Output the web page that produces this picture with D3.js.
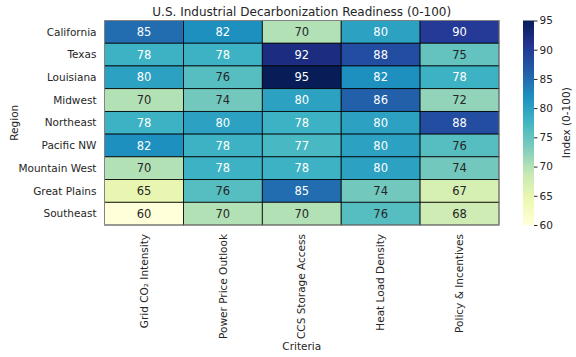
<!DOCTYPE html>
<html><head><meta charset="utf-8">
<script src="https://cdn.jsdelivr.net/npm/d3@7"></script>
<style>body{margin:0;background:#fff}svg{display:block;font-family:"DejaVu Sans",sans-serif}</style>
</head><body><svg id="c" width="576" height="357"></svg>
<script>
const regions = ["California","Texas","Louisiana","Midwest","Northeast","Pacific NW","Mountain West","Great Plains","Southeast"];
const criteria = ["Grid CO\u2082 Intensity","Power Price Outlook","CCS Storage Access","Heat Load Density","Policy & Incentives"];
const values = [
  [85,82,70,80,90],
  [78,78,92,88,75],
  [80,76,95,82,78],
  [70,74,80,86,72],
  [78,80,78,80,88],
  [82,78,77,80,76],
  [70,78,78,80,74],
  [65,76,85,74,67],
  [60,70,70,76,68]
];
const cbTicks = [60,65,70,75,80,85,90,95];
const vmin = 60, vmax = 95;
const title = "U.S. Industrial Decarbonization Readiness (0-100)";

const ylgnbu = ["#ffffd9","#edf8b1","#c7e9b4","#7fcdbb","#41b6c4","#1d91c0","#225ea8","#253494","#081d58"];
const color = d3.scaleLinear().domain(d3.range(9).map(i=>vmin+(vmax-vmin)*i/8)).range(ylgnbu).interpolate(d3.interpolateRgb).clamp(true);

function lum(c){
  const r = d3.rgb(c);
  const f = v=>{v/=255; return v<=0.03928? v/12.92 : Math.pow((v+0.055)/1.055,2.4);};
  return 0.2126*f(r.r)+0.7152*f(r.g)+0.0722*f(r.b);
}

const svg = d3.select("#c");
const L=104.5, R=499, T=20.5, B=225;
const x = d3.scaleBand().domain(criteria).range([L,R]);
const y = d3.scaleBand().domain(regions).range([T,B]);

const cells = [];
regions.forEach((r,i)=>criteria.forEach((c,j)=>cells.push({r,c,v:values[i][j]})));

const g = svg.append("g");
g.selectAll("rect").data(cells).join("rect")
  .attr("x",d=>x(d.c)).attr("y",d=>y(d.r))
  .attr("width",x.bandwidth()).attr("height",y.bandwidth())
  .attr("fill",d=>color(d.v)).attr("stroke","#000").attr("stroke-width",0.8);
g.selectAll("text").data(cells).join("text")
  .attr("x",d=>x(d.c)+x.bandwidth()/2).attr("y",d=>y(d.r)+y.bandwidth()/2)
  .attr("dy","0.36em").attr("text-anchor","middle").attr("font-size",11.5)
  .attr("fill",d=>lum(color(d.v))>0.408?"#262626":"#ffffff")
  .text(d=>d.v);

// outer frame
svg.append("rect").attr("x",L).attr("y",T).attr("width",R-L).attr("height",B-T)
  .attr("fill","none").attr("stroke","#999").attr("stroke-width",0.8);

// y tick labels
svg.append("g").selectAll("text").data(regions).join("text")
  .attr("x",L-8).attr("y",d=>y(d)+y.bandwidth()/2).attr("dy","0.35em")
  .attr("text-anchor","end").attr("font-size",10.5).attr("fill","#262626").text(d=>d);

// x tick labels
svg.append("g").selectAll("text").data(criteria).join("text")
  .attr("transform",d=>`translate(${x(d)+x.bandwidth()/2},${B+9}) rotate(-90)`)
  .attr("dy","0.35em").attr("text-anchor","end").attr("font-size",10.5).attr("fill","#262626").text(d=>d);

// axis labels
svg.append("text").attr("transform",`translate(14,${(T+B)/2}) rotate(-90)`)
  .attr("text-anchor","middle").attr("dy","0.35em").attr("font-size",10.5).attr("fill","#262626").text("Region");
svg.append("text").attr("x",(L+R)/2).attr("y",350).attr("text-anchor","middle")
  .attr("font-size",10.5).attr("fill","#262626").text("Criteria");
svg.append("text").attr("x",(L+R)/2).attr("y",16).attr("text-anchor","middle")
  .attr("font-size",12).attr("fill","#262626").text(title);

// colorbar
const cbL=523, cbW=11;
const cy = d3.scaleLinear().domain([vmin,vmax]).range([B,T]);
const defs = svg.append("defs");
const grad = defs.append("linearGradient").attr("id","cbg").attr("x1",0).attr("y1",1).attr("x2",0).attr("y2",0);
ylgnbu.forEach((c,i)=>grad.append("stop").attr("offset",i/8).attr("stop-color",c));
svg.append("rect").attr("x",cbL).attr("y",T).attr("width",cbW).attr("height",B-T).attr("fill","url(#cbg)");
const cbAxis = d3.axisRight(cy).tickValues(cbTicks).tickSize(3.5).tickPadding(2);
const ca = svg.append("g").attr("transform",`translate(${cbL+cbW},0)`).call(cbAxis);
ca.select(".domain").remove();
ca.selectAll("text").attr("font-size",10.5).attr("fill","#262626").attr("font-family","DejaVu Sans");
ca.selectAll("line").attr("stroke","#262626");
svg.append("text").attr("transform",`translate(566,${(T+B)/2}) rotate(-90)`)
  .attr("text-anchor","middle").attr("dy","0.35em").attr("font-size",10.5).attr("fill","#262626").text("Index (0-100)");
</script></body></html>
